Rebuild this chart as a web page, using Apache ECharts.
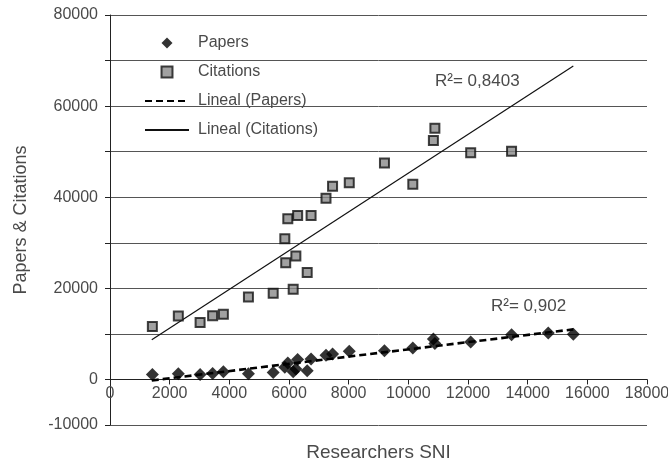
<!DOCTYPE html>
<html>
<head>
<meta charset="utf-8">
<script src="https://cdn.jsdelivr.net/npm/echarts@6/dist/echarts.min.js"></script>
<style>
html,body{margin:0;padding:0;background:#fff;}
#chart{width:668px;height:468px;}
</style>
</head>
<body>
<div id="chart"></div>
<script>
// Researchers SNI (x) vs Citations (y)
const citationsX = [1420, 2290, 3020, 3440, 3800, 4640, 5470, 6140, 6610, 5890, 6230, 5860, 5960, 6290, 6740, 7240, 7460, 8020, 9200, 10150, 10840, 10890, 12090, 13460];
const citationsY = [11600, 13900, 12500, 14000, 14300, 18100, 18900, 19800, 23500, 25600, 27100, 30900, 35300, 36000, 36000, 39800, 42400, 43150, 47500, 42850, 52450, 55150, 49750, 50100];
// Researchers SNI (x) vs Papers (y)
const papersX = [1420, 2290, 3020, 3440, 3800, 4640, 5470, 5860, 5960, 6140, 6230, 6290, 6610, 6740, 7240, 7460, 8020, 9200, 10150, 10840, 10890, 12090, 13460, 14690, 15530];
const papersY = [1100, 1250, 1100, 1300, 1700, 1250, 1500, 2700, 3600, 1700, 2300, 4400, 1900, 4500, 5300, 5600, 6200, 6300, 6900, 8900, 7900, 8200, 9800, 10200, 9900];
// Trend line endpoints (x, y)
const trendPapersX = [1400, 15530];
const trendPapersY = [-220, 10990];
const trendCitationsX = [1400, 15530];
const trendCitationsY = [8720, 68790];
// Axis ticks
const yMin = -10000, yMax = 80000, yStep = 10000;
const yLabelValues = [-10000, 0, 20000, 40000, 60000, 80000];
const xMin = 0, xMax = 18000, xStep = 2000;
const r2Citations = 'R\u00b2= 0,8403';
const r2Papers = 'R\u00b2= 0,902';

const zip = (a, b) => a.map((v, i) => [v, b[i]]);
const font = 'Liberation Sans';
const txt = '#4a4a4a';

const gridTop = 15, gridBottom = 43, chartH = 468;
const plotH = chartH - gridTop - gridBottom;
// shift the x axis line up to y = 0 of the value axis
const xAxisOffset = -plotH * (0 - yMin) / (yMax - yMin);

const chart = echarts.init(document.getElementById('chart'), null, {renderer: 'canvas'});
chart.setOption({
  animation: false,
  backgroundColor: '#fff',
  textStyle: {fontFamily: font},
  grid: {
    left: 110, right: 21, top: gridTop, bottom: gridBottom, containLabel: false,
    outerBounds: {left: -500, top: -500, right: -500, bottom: -500}
  },
  legend: {
    orient: 'vertical', left: 144, top: 34, padding: 0,
    itemWidth: 44, itemHeight: 11, itemGap: 11, symbolKeepAspect: true,
    textStyle: {fontFamily: font, fontSize: 16, color: txt, lineHeight: 18, padding: [0, 0, 0, 4]},
    data: [
      {name: 'Papers', icon: 'path://M0,5L5,0L10,5L5,10Z'},
      {name: 'Citations', icon: 'path://M0,0L10,0L10,10L0,10Z'},
      {name: 'Lineal (Papers)', itemStyle: {color: 'rgba(0,0,0,0)', borderWidth: 0, opacity: 0}},
      {name: 'Lineal (Citations)', itemStyle: {color: 'rgba(0,0,0,0)', borderWidth: 0, opacity: 0}}
    ]
  },
  xAxis: {
    type: 'value', min: xMin, max: xMax, interval: xStep,
    position: 'bottom', offset: xAxisOffset,
    name: 'Researchers SNI', nameLocation: 'middle', nameGap: 64,
    nameTextStyle: {fontFamily: font, fontSize: 19, color: txt},
    axisLine: {onZero: false, lineStyle: {color: '#222', width: 1}},
    axisTick: {show: true, inside: false, length: 5, lineStyle: {color: '#222'}},
    axisLabel: {fontFamily: font, fontSize: 16, color: txt, margin: 6, formatter: v => String(v)},
    splitLine: {show: false}
  },
  yAxis: {
    type: 'value', min: yMin, max: yMax, interval: yStep,
    name: 'Papers & Citations', nameLocation: 'middle', nameGap: 80, nameRotate: 90,
    nameTextStyle: {fontFamily: font, fontSize: 18, color: txt},
    axisLine: {show: true, onZero: false, lineStyle: {color: '#222', width: 1}},
    axisTick: {show: true, inside: false, length: 5, lineStyle: {color: '#222'}},
    axisLabel: {
      fontFamily: font, fontSize: 16, color: txt, margin: 12,
      formatter: v => (yLabelValues.indexOf(v) >= 0 ? String(v) : '')
    },
    splitLine: {show: true, lineStyle: {color: '#555', width: 1}}
  },
  series: [
    {
      name: 'Papers', type: 'scatter', symbol: 'diamond', symbolSize: 13,
      itemStyle: {color: '#000'}, data: zip(papersX, papersY), z: 5
    },
    {
      name: 'Citations', type: 'scatter', symbol: 'rect', symbolSize: 9,
      itemStyle: {color: '#8a8a8a', borderColor: '#111', borderWidth: 2},
      data: zip(citationsX, citationsY), z: 5
    },
    {
      name: 'Lineal (Papers)', type: 'line', symbol: 'none', showSymbol: false,
      lineStyle: {color: '#000', width: 2.6, type: [7, 4]},
      data: zip(trendPapersX, trendPapersY), z: 4
    },
    {
      name: 'Lineal (Citations)', type: 'line', symbol: 'none', showSymbol: false,
      lineStyle: {color: '#111', width: 1.2},
      data: zip(trendCitationsX, trendCitationsY), z: 4
    }
  ],
  graphic: [
    {type: 'text', left: 435, top: 73, style: {text: r2Citations, font: '17px ' + font, fill: txt}},
    {type: 'text', left: 491, top: 298, style: {text: r2Papers, font: '17px ' + font, fill: txt}}
  ]
});
</script>
</body>
</html>
